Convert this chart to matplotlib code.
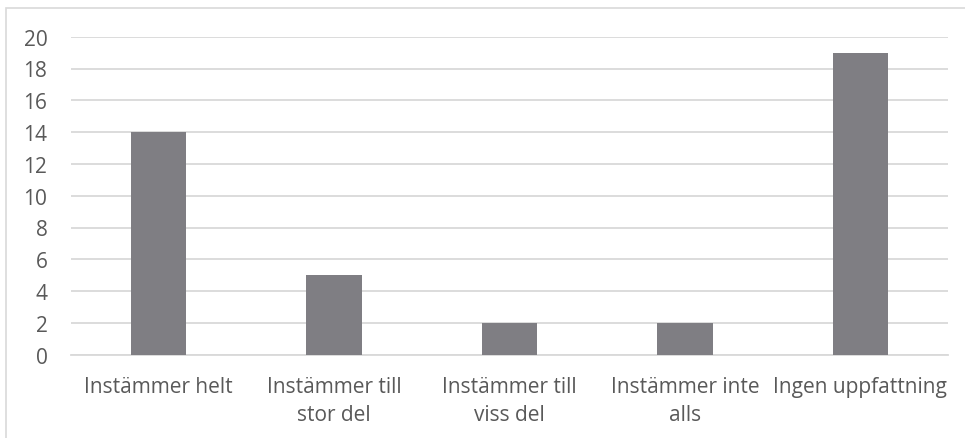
import matplotlib.pyplot as plt
from matplotlib.patches import Rectangle

# survey answers and counts
categories = ["Instämmer helt", "Instämmer till\nstor del", "Instämmer till\nviss del",
              "Instämmer inte\nalls", "Ingen uppfattning"]
counts = [14, 5, 2, 2, 19]
yticks = list(range(0, 21, 2))

plt.rcParams['font.family'] = ['Open Sans', 'DejaVu Sans']

fig = plt.figure(figsize=(9.65, 4.39), dpi=100)
ax = fig.add_axes([71/965, 1 - 355.7/439, 877/965, 318/439])

x = range(len(categories))
ax.bar(x, counts, width=0.315, color='#7f7e83', zorder=3)

ax.set_xlim(-0.5, len(categories) - 0.5)
ax.set_ylim(0, 20)
ax.set_yticks(yticks)
ax.set_xticks(list(x))
ax.set_xticklabels(categories, linespacing=1.45)
ax.grid(axis='y', color='#d9d9d9', lw=1.3, zorder=0)
ax.tick_params(axis='both', length=0, labelsize=15, colors='#595959')
ax.tick_params(axis='x', pad=15.5)
ax.tick_params(axis='y', pad=17)
for s in ['top', 'right', 'left']:
    ax.spines[s].set_visible(False)
ax.spines['bottom'].set_color('#d9d9d9')
ax.spines['bottom'].set_linewidth(1.3)

# chart frame
fig.patches.append(Rectangle((6/965, -0.1), 1.2, 1 - 9/439 + 0.1, transform=fig.transFigure,
                             fill=False, edgecolor='#d9d9d9', lw=1.2))

fig.savefig('out.png', dpi=100)
